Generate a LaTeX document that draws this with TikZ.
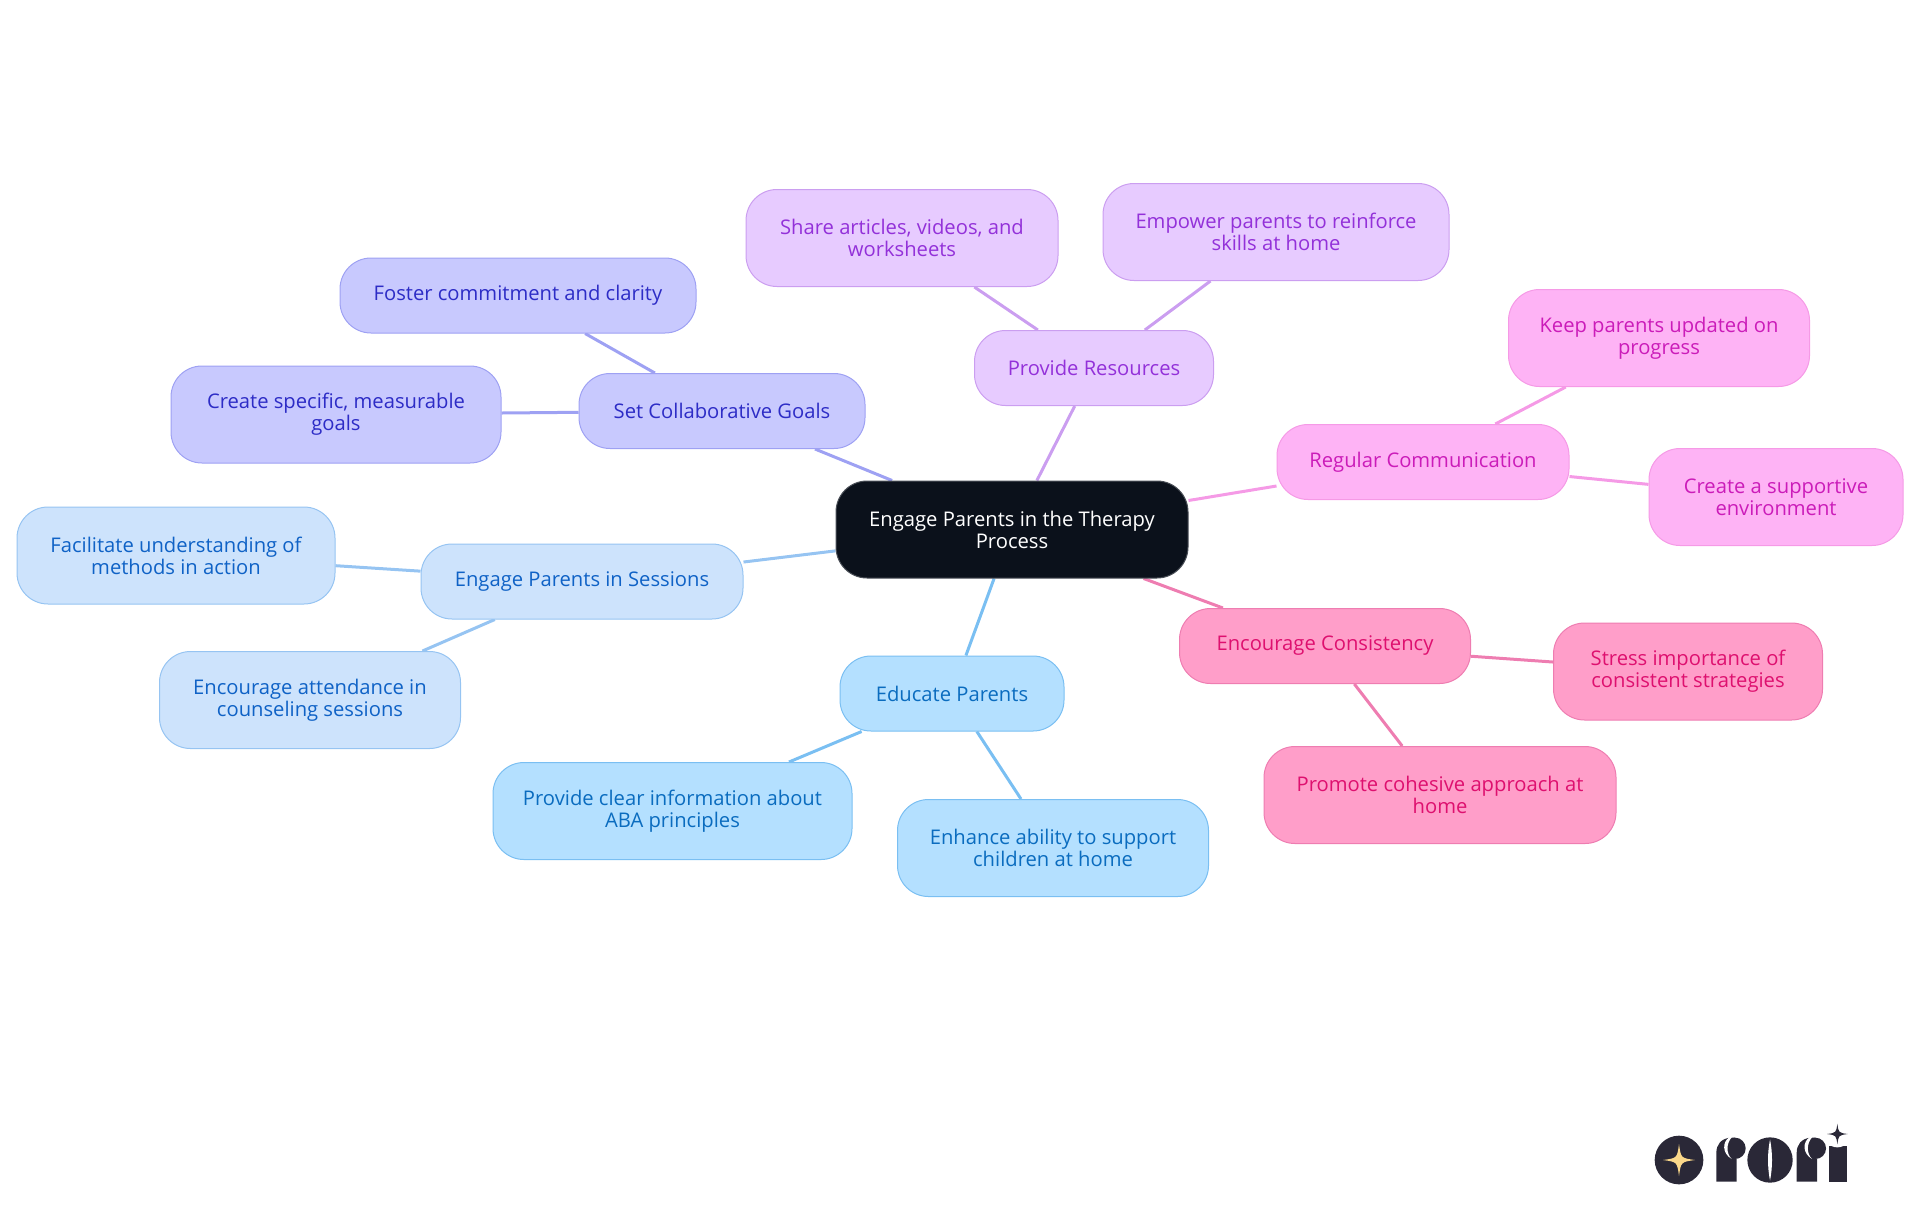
\documentclass[tikz,border=0pt]{standalone}
\usepackage{fontspec}
\setmainfont{Open Sans}
\usepackage{tikz}
\usetikzlibrary{backgrounds}

\definecolor{rootfill}{HTML}{0B111B}
\definecolor{rootline}{HTML}{4A4F57}
\definecolor{goalfill}{HTML}{C8C9FE}
\definecolor{goalline}{HTML}{9EA1F3}
\definecolor{goaltext}{HTML}{2D2CC6}
\definecolor{sessfill}{HTML}{CDE3FC}
\definecolor{sessline}{HTML}{96C4F2}
\definecolor{sesstext}{HTML}{0F62C6}
\definecolor{edufill}{HTML}{B4E0FF}
\definecolor{eduline}{HTML}{7ABFF2}
\definecolor{edutext}{HTML}{0A6CBF}
\definecolor{resfill}{HTML}{E7CBFF}
\definecolor{resline}{HTML}{CB9EF0}
\definecolor{restext}{HTML}{9331D9}
\definecolor{commfill}{HTML}{FEB3F5}
\definecolor{commline}{HTML}{F59AE6}
\definecolor{commtext}{HTML}{CB1CB9}
\definecolor{consfill}{HTML}{FF9EC9}
\definecolor{consline}{HTML}{EE7DB1}
\definecolor{constext}{HTML}{DE106F}
\definecolor{logodark}{HTML}{2A2837}
\definecolor{logostar}{HTML}{FBD88A}

\newcommand{\logospark}[4]{\fill [#4] (#1,#2-#3) .. controls (#1+0.12*#3,#2-0.12*#3) .. (#1+#3,#2)
  .. controls (#1+0.12*#3,#2+0.12*#3) .. (#1,#2+#3)
  .. controls (#1-0.12*#3,#2+0.12*#3) .. (#1-#3,#2)
  .. controls (#1-0.12*#3,#2-0.12*#3) .. cycle;}
\newcommand{\logoletter}[1]{
  \fill [logodark] (#1+349,275) -- (#1+349,188) .. controls (#1+349,165) and (#1+362,146) .. (#1+390,143)
    -- (#1+405,143) -- (#1+405,207) -- (#1+410,207) -- (#1+410,275) -- cycle;
  \fill [logodark] (#1+405,175) circle [radius=32];
  \fill [white] (#1+389,141) .. controls (#1+366,155) and (#1+366,190) .. (#1+395,207)
    .. controls (#1+378,190) and (#1+378,160) .. (#1+396,141) -- cycle;}

\begin{document}
\begin{tikzpicture}[x=0.5pt, y=-0.5pt]
  \tikzstyle{every node}=[font=\fontsize{10.1}{11}\selectfont, align=center, inner sep=0pt]
  \tikzstyle{mind}=[rectangle, rounded corners=15.5pt, draw, line width=0.5pt, minimum height=37.5pt]
  \tikzstyle{root}=[mind, fill=rootfill, draw=rootline, text=white]
  \tikzstyle{goal}=[mind, fill=goalfill, draw=goalline, text=goaltext]
  \tikzstyle{sess}=[mind, fill=sessfill, draw=sessline, text=sesstext]
  \tikzstyle{edu}=[mind, fill=edufill, draw=eduline, text=edutext]
  \tikzstyle{res}=[mind, fill=resfill, draw=resline, text=restext]
  \tikzstyle{comm}=[mind, fill=commfill, draw=commline, text=commtext]
  \tikzstyle{cons}=[mind, fill=consfill, draw=consline, text=constext]
  \tikzstyle{twoline}=[minimum height=48.5pt]
  \tikzstyle{branch}=[line width=1.5pt]

  \useasboundingbox (0,0) rectangle (1920,1215);

  \node [root, twoline, minimum width=176pt] (engage) at (1012,529.5) {Engage Parents in the Therapy\\Process};

  \node [goal, minimum width=143pt] (goals) at (722,411) {Set Collaborative Goals};
  \node [goal, minimum width=178pt] (foster) at (518,295.5) {Foster commitment and clarity};
  \node [goal, twoline, minimum width=165pt] (specific) at (336,414.5) {Create specific, measurable\\goals};

  \node [sess, minimum width=161pt] (sessions) at (582,581.5) {Engage Parents in Sessions};
  \node [sess, twoline, minimum width=159pt] (methods) at (176,555.5) {Facilitate understanding of\\methods in action};
  \node [sess, twoline, minimum width=150.5pt] (attend) at (310,700) {Encourage attendance in\\counseling sessions};

  \node [edu, minimum width=112pt] (educate) at (952,693.5) {Educate Parents};
  \node [edu, twoline, minimum width=179.5pt] (aba) at (672.5,811) {Provide clear information about\\ABA principles};
  \node [edu, twoline, minimum width=155.5pt] (ability) at (1053,848) {Enhance ability to support\\children at home};

  \node [res, minimum width=119.5pt] (resources) at (1094,368) {Provide Resources};
  \node [res, twoline, minimum width=156pt] (share) at (902,238) {Share articles, videos, and\\worksheets};
  \node [res, twoline, minimum width=173pt] (empower) at (1276,232) {Empower parents to reinforce\\skills at home};

  \node [comm, minimum width=146pt] (regular) at (1423,462) {Regular Communication};
  \node [comm, twoline, minimum width=150.5pt] (updated) at (1659,338) {Keep parents updated on\\progress};
  \node [comm, twoline, minimum width=127pt] (supportive) at (1776,497) {Create a supportive\\environment};

  \node [cons, minimum width=145.5pt] (consist) at (1325,646) {Encourage Consistency};
  \node [cons, twoline, minimum width=134.5pt] (stress) at (1688,671.5) {Stress importance of\\consistent strategies};
  \node [cons, twoline, minimum width=176pt] (cohesive) at (1440,795) {Promote cohesive approach at\\home};

  \begin{pgfonlayer}{background}
    \draw [branch, goalline] (engage) -- (goals);
    \draw [branch, goalline] (goals) -- (foster);
    \draw [branch, goalline] (goals) -- (specific);
    \draw [branch, sessline] (engage) -- (sessions);
    \draw [branch, sessline] (sessions) -- (methods);
    \draw [branch, sessline] (sessions) -- (attend);
    \draw [branch, eduline] (engage) -- (educate);
    \draw [branch, eduline] (educate) -- (aba);
    \draw [branch, eduline] (educate) -- (ability);
    \draw [branch, resline] (engage) -- (resources);
    \draw [branch, resline] (resources) -- (share);
    \draw [branch, resline] (resources) -- (empower);
    \draw [branch, commline] (engage) -- (regular);
    \draw [branch, commline] (regular) -- (updated);
    \draw [branch, commline] (regular) -- (supportive);
    \draw [branch, consline] (engage) -- (consist);
    \draw [branch, consline] (consist) -- (stress);
    \draw [branch, consline] (consist) -- (cohesive);
  \end{pgfonlayer}

  % logo
  \begin{scope}[shift={(1600,1090)}, x=0.16667pt, y=-0.16667pt]
    \fill [logodark] (237,210) circle [radius=73];
    \logospark{237}{210}{48}{logostar}
    \logoletter{0}
    \fill [logodark] (510,210) circle [radius=68];
    \fill [white] (510,148) .. controls (518,190) and (518,230) .. (510,272)
      .. controls (502,230) and (502,190) .. cycle;
    \logoletter{241}
    \fill [logodark] (687,275) rectangle (740,168);
    \fill [white] (712,132) circle [radius=40];
    \logospark{712}{132}{31}{logodark}
  \end{scope}
\end{tikzpicture}
\end{document}
